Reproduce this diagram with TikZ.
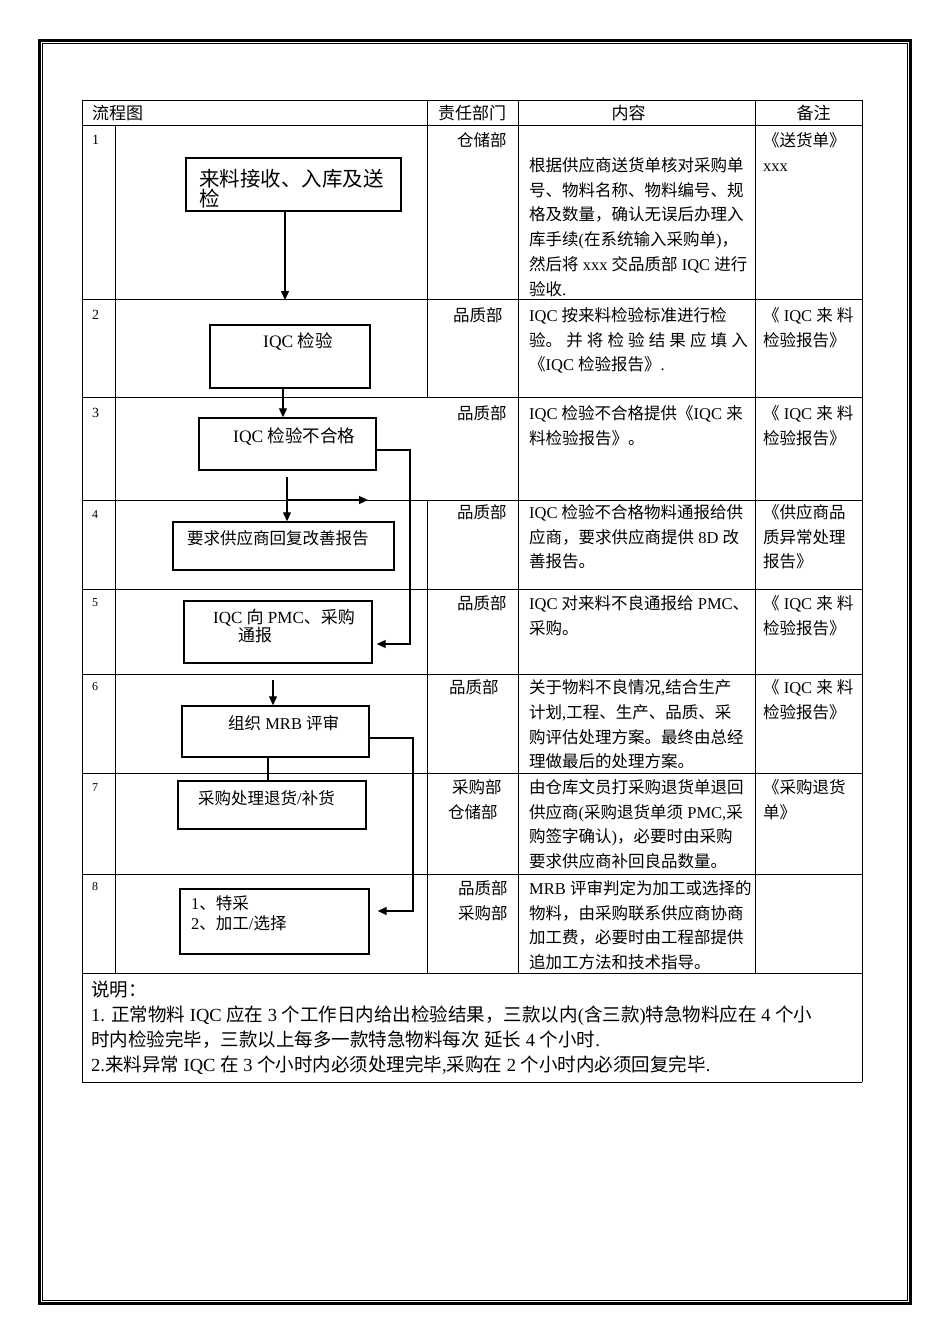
\documentclass[tikz,border=0pt]{standalone}
\usepackage{fontspec}
\setmainfont{Liberation Serif}
\newfontfamily\cjk{Noto Sans CJK SC}
\usetikzlibrary{arrows.meta}
% CJK characters switch to the CJK font by themselves
\XeTeXinterchartokenstate=1
\chardef\cjkclass=7
\newcount\cjkcode
\def\setcjkrange#1#2{\cjkcode=#1\relax
  \loop\XeTeXcharclass\cjkcode=\cjkclass
    \advance\cjkcode by 1
  \ifnum\cjkcode<#2\relax\repeat}
\setcjkrange{"3000}{"3040}
\setcjkrange{"4E00}{"A000}
\setcjkrange{"FF00}{"FFF0}
\XeTeXinterchartoks 0 \cjkclass = {\cjk}
\XeTeXinterchartoks 4095 \cjkclass = {\cjk}
\XeTeXinterchartoks \cjkclass 0 = {\rmfamily}
\XeTeXinterchartoks \cjkclass 4095 = {\rmfamily}

\begin{document}
\begin{tikzpicture}[x=1pt,y=-1pt,
  rule/.style={line width=0.9pt},
  box/.style={draw,line width=1.4pt,inner sep=0pt},
  boxtext/.style={anchor=west,inner sep=0pt,font=\fontsize{16.5}{16.5}\selectfont},
  head/.style={inner sep=0pt,font=\fontsize{17}{17}\selectfont},
  dept/.style={anchor=west,inner sep=0pt,font=\fontsize{16.5}{16.5}\selectfont},
  cell/.style={anchor=north west,inner sep=0pt,align=left,font=\fontsize{16.5}{24.7}\selectfont},
  num/.style={anchor=west,inner sep=0pt,font=\fontsize{#1}{#1}\selectfont},
  flow/.style={-{Triangle[length=9pt,width=8pt]},line width=1.2pt},
  link/.style={line width=1.2pt}
]
  \fill[white] (0,0) rectangle (950,1344);
  \useasboundingbox (0,0) rectangle (950,1344);

  % page frame
  \draw[line width=2.5pt] (39.25,40.25) rectangle (910.5,1303.5);
  \draw[line width=0.8pt] (42.5,43.5) rectangle (907,1300);

  % table
  \foreach \y in {100,125,299,397,500,589,674,773,874,973,1082}
    \draw[rule] (82,\y) -- (862,\y);
  \foreach \x in {82,862} \draw[rule] (\x,100) -- (\x,1082);
  \foreach \x in {518,755} \draw[rule] (\x,100) -- (\x,973);
  \draw[rule] (115.5,125) -- (115.5,973);
  \draw[rule] (427,100) -- (427,397) (427,500) -- (427,973);

  \node[head,anchor=west] (h-flow) at (92,113) {流程图};
  \node[head] (h-dept) at (472,113) {责任部门};
  \node[head] (h-text) at (628.5,113) {内容};
  \node[head] (h-note) at (813.5,113) {备注};

  \foreach \n/\y in {1/140,2/315,3/413}
    \node[num=14] (n\n) at (92,\y) {\n};
  \foreach \n/\y in {4/515,5/603,6/687,7/788,8/887}
    \node[num=12] (n\n) at (92,\y) {\n};

  % departments
  \node[dept] (dep1) at (457,140) {仓储部};
  \node[dept] (dep2) at (453,315) {品质部};
  \node[dept] (dep3) at (457,413) {品质部};
  \node[dept] (dep4) at (457,512) {品质部};
  \node[dept] (dep5) at (457,603) {品质部};
  \node[dept] (dep6) at (449,687) {品质部};
  \node[cell] (dep7) at (448,779.4) {\hspace*{4pt}采购部\\仓储部};
  \node[cell] (dep8) at (458,880.4) {品质部\\采购部};

  % contents
  \node[cell] (c1) at (529,157.4) {根据供应商送货单核对采购单\\号、物料名称、物料编号、规\\格及数量，确认无误后办理入\\库手续(在系统输入采购单)，\\然后将 xxx 交品质部 IQC 进行\\验收.};
  \node[cell] (c2) at (529,307.4) {IQC 按来料检验标准进行检\\验。 并 将 检 验 结 果 应 填 入\\《IQC 检验报告》.};
  \node[cell] (c3) at (529,405.4) {IQC 检验不合格提供《IQC 来\\料检验报告》。};
  \node[cell] (c4) at (529,504.4) {IQC 检验不合格物料通报给供\\应商，要求供应商提供 8D 改\\善报告。};
  \node[cell] (c5) at (529,595.4) {IQC 对来料不良通报给 PMC、\\采购。};
  \node[cell] (c6) at (529,679.4) {关于物料不良情况,结合生产\\计划,工程、生产、品质、采\\购评估处理方案。最终由总经\\理做最后的处理方案。};
  \node[cell] (c7) at (529,779.4) {由仓库文员打采购退货单退回\\供应商(采购退货单须 PMC,采\\购签字确认)，必要时由采购\\要求供应商补回良品数量。};
  \node[cell] (c8) at (529,880.4) {MRB 评审判定为加工或选择的\\物料，由采购联系供应商协商\\加工费，必要时由工程部提供\\追加工方法和技术指导。};

  % remarks
  \node[cell] (r1) at (763,132.4) {《送货单》\\xxx};
  \node[cell] (r2) at (763,307.4) {《 IQC 来 料\\检验报告》};
  \node[cell] (r3) at (763,405.4) {《 IQC 来 料\\检验报告》};
  \node[cell] (r4) at (763,504.4) {《供应商品\\质异常处理\\报告》};
  \node[cell] (r5) at (763,595.4) {《 IQC 来 料\\检验报告》};
  \node[cell] (r6) at (763,679.4) {《 IQC 来 料\\检验报告》};
  \node[cell] (r7) at (763,779.4) {《采购退货\\单》};

  \node[cell,font=\fontsize{18.5}{25}\selectfont] (memo) at (91,980.5)
    {说明：\\1. 正常物料 IQC 应在 3 个工作日内给出检验结果，三款以内(含三款)特急物料应在 4 个小\\时内检验完毕，三款以上每多一款特急物料每次 延长 4 个小时.\\2.来料异常 IQC 在 3 个小时内必须处理完毕,采购在 2 个小时内必须回复完毕.};

  % flow boxes
  \node[box,minimum width=215pt,minimum height=53pt] (recv) at (293.5,184.5) {};
  \node[cell,font=\fontsize{20.5}{19}\selectfont] (recv-t) at (199,169.1) {来料接收、入库及送\\检};
  \node[box,minimum width=160pt,minimum height=63pt] (iqc) at (290,356.5) {};
  \node[boxtext,font=\fontsize{17.5}{17.5}\selectfont] (iqc-t) at (263,342) {IQC 检验};
  \node[box,minimum width=177pt,minimum height=52pt] (fail) at (287.5,444) {};
  \node[boxtext,font=\fontsize{17.5}{17.5}\selectfont] (fail-t) at (233,437) {IQC 检验不合格};
  \node[box,minimum width=221pt,minimum height=48pt] (improve) at (283.5,546) {};
  \node[boxtext] (improve-t) at (187,538) {要求供应商回复改善报告};
  \node[box,minimum width=188pt,minimum height=62pt] (notify) at (278,632) {};
  \node[cell,font=\fontsize{17}{18}\selectfont] (notify-t) at (213,609.2) {IQC 向 PMC、采购\\\hspace*{25pt}通报};
  \node[box,minimum width=187pt,minimum height=51pt] (mrb) at (275.5,731.5) {};
  \node[boxtext] (mrb-t) at (228,723) {组织 MRB 评审};
  \node[box,minimum width=188pt,minimum height=48pt] (ret) at (272,805) {};
  \node[boxtext] (ret-t) at (198,798) {采购处理退货/补货};
  \node[box,minimum width=189pt,minimum height=65pt] (spec) at (274.5,921.5) {};
  \node[cell,font=\fontsize{16.5}{20}\selectfont] (spec-t) at (191,895.4) {1、特采\\2、加工/选择};

  % connectors
  \coordinate (a1) at (285,300);
  \draw[flow] (recv.south -| a1) -- (a1);
  \coordinate (a2) at (283,0);
  \draw[flow] (iqc.south -| a2) -- (fail.north -| a2);
  \coordinate (j1) at (410,450);
  \coordinate (j2) at (410,644);
  \draw[flow,shorten >=4pt] (fail.east |- j1) -- (j1) -- (j2) -- (notify.east |- j2);
  \coordinate (b1) at (287,477);
  \draw[flow] (b1) -- (improve.north -| b1);
  \coordinate (b2) at (287,500);
  \coordinate (b3) at (368,500);
  \draw[flow] (b2) -- (b3);
  \coordinate (m1) at (273,680);
  \draw[flow] (m1) -- (mrb.north -| m1);
  \coordinate (m2) at (268,0);
  \draw[link] (mrb.south -| m2) -- (ret.north -| m2);
  \coordinate (k1) at (413,738);
  \coordinate (k2) at (413,911);
  \draw[flow,shorten >=8pt] (mrb.east |- k1) -- (k1) -- (k2) -- (spec.east |- k2);
\end{tikzpicture}
\end{document}
